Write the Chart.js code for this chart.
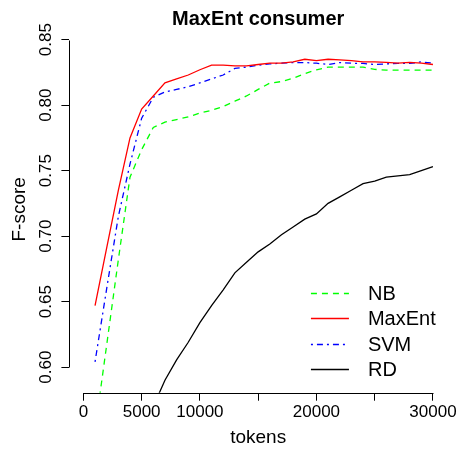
<!DOCTYPE html>
<html>
<head>
<meta charset="utf-8">
<script src="https://cdn.jsdelivr.net/npm/chart.js@4.4.1/dist/chart.umd.min.js"></script>
<style>
  html, body { margin: 0; padding: 0; background: #fff; }
  canvas { display: block; }
</style>
</head>
<body>
<canvas id="chart" width="458" height="453"></canvas>
<script>
// Data (F-score vs. number of training tokens)
const tokens = [1000, 2000, 3000, 4000, 5000, 6000, 7000, 8000, 9000, 10000,
    11000, 12000, 13000, 14000, 15000, 16000, 17000, 18000, 19000, 20000,
    21000, 22000, 23000, 24000, 25000, 26000, 27000, 28000, 29000, 30000];
const nbScores = [0.552, 0.617, 0.682, 0.745, 0.766, 0.783, 0.787, 0.789, 0.791, 0.794,
    0.796, 0.799, 0.803, 0.807, 0.812, 0.8168, 0.818, 0.8205, 0.824, 0.827,
    0.829, 0.829, 0.829, 0.829, 0.8273, 0.8267, 0.8267, 0.8267, 0.8267, 0.8267];
const maxentScores = [0.647, 0.691, 0.735, 0.775, 0.797, 0.807, 0.817, 0.820, 0.823, 0.827,
    0.8305, 0.8305, 0.830, 0.830, 0.831, 0.832, 0.832, 0.833, 0.835, 0.834,
    0.835, 0.8345, 0.834, 0.833, 0.833, 0.8327, 0.832, 0.8327, 0.832, 0.831];
const svmScores = [0.604, 0.660, 0.715, 0.755, 0.790, 0.806, 0.810, 0.812, 0.814, 0.817,
    0.820, 0.823, 0.828, 0.829, 0.8305, 0.8315, 0.832, 0.8325, 0.8325, 0.832,
    0.831, 0.8325, 0.832, 0.8318, 0.831, 0.8315, 0.8318, 0.8318, 0.833, 0.832];
const rdScores = [null, null, null, null, null, 0.570, 0.590, 0.6055, 0.619, 0.634,
    0.647, 0.659, 0.672, 0.680, 0.688, 0.694, 0.701, 0.707, 0.713, 0.717,
    0.725, 0.730, 0.735, 0.740, 0.742, 0.745, 0.746, 0.747, 0.750, 0.753];

const seriesNames = ['NB', 'MaxEnt', 'SVM', 'RD'];
const xTickValues = [0, 5000, 10000, 15000, 20000, 25000, 30000];
const xTickLabels = ['0', '5000', '10000', '', '20000', '', '30000'];
const yTickValues = [0.60, 0.65, 0.70, 0.75, 0.80, 0.85];
const yTickLabels = ['0.60', '0.65', '0.70', '0.75', '0.80', '0.85'];

const FONT = '"Liberation Sans", Arial, Helvetica, sans-serif';

function toPoints(values) {
    return tokens.map((t, i) => ({ x: t, y: values[i] }));
}

// R-style axis lines: only span from first to last tick
const axisLines = {
    id: 'axisLines',
    afterDraw(chart) {
        const { ctx, chartArea, scales } = chart;
        const xs = scales.x, ys = scales.y;
        const yb = Math.round(chartArea.bottom) + 0.5;
        const xl = Math.round(chartArea.left) + 0.5;
        ctx.save();
        ctx.strokeStyle = '#000';
        ctx.lineWidth = 1;
        ctx.beginPath();
        ctx.moveTo(Math.round(xs.getPixelForValue(xTickValues[0])) + 0.5, yb);
        ctx.lineTo(Math.round(xs.getPixelForValue(xTickValues[xTickValues.length - 1])) + 0.5, yb);
        ctx.moveTo(xl, Math.round(ys.getPixelForValue(yTickValues[0])) + 0.5);
        ctx.lineTo(xl, Math.round(ys.getPixelForValue(yTickValues[yTickValues.length - 1])) + 0.5);
        ctx.stroke();
        ctx.restore();
    }
};

// Borderless legend in the lower right of the plot, like R's legend(bty = "n")
const lineLegend = {
    id: 'lineLegend',
    afterDatasetsDraw(chart) {
        const { ctx, chartArea } = chart;
        ctx.save();
        ctx.font = '20px ' + FONT;
        ctx.textBaseline = 'middle';
        ctx.textAlign = 'left';
        chart.data.datasets.forEach((ds, i) => {
            const y = Math.round(chartArea.bottom - 99.5 + i * 25.2) + 0.5;
            ctx.strokeStyle = ds.borderColor;
            ctx.lineWidth = ds.borderWidth;
            ctx.setLineDash(ds.borderDash || []);
            ctx.beginPath();
            ctx.moveTo(chartArea.right - 136, y);
            ctx.lineTo(chartArea.right - 98, y);
            ctx.stroke();
            ctx.setLineDash([]);
            ctx.fillStyle = '#000';
            ctx.fillText(ds.label, chartArea.right - 79, y + 1);
        });
        ctx.restore();
    }
};

Chart.defaults.font.family = FONT;
Chart.defaults.color = '#000';

new Chart(document.getElementById('chart'), {
    type: 'line',
    data: {
        datasets: [
            { label: seriesNames[0], data: toPoints(nbScores), borderColor: '#00ff00', borderDash: [6, 5] },
            { label: seriesNames[1], data: toPoints(maxentScores), borderColor: '#ff0000' },
            { label: seriesNames[2], data: toPoints(svmScores), borderColor: '#0000ff', borderDash: [2, 4, 6, 4] },
            { label: seriesNames[3], data: toPoints(rdScores), borderColor: '#000000' }
        ].map(ds => Object.assign({
            borderWidth: 1.3,
            pointRadius: 0,
            tension: 0,
            fill: false,
            spanGaps: false
        }, ds))
    },
    options: {
        responsive: false,
        animation: false,
        devicePixelRatio: 1,
        layout: { padding: { left: 0, right: 9, top: 0, bottom: 0 } },
        plugins: {
            legend: { display: false },
            tooltip: { enabled: false },
            title: {
                display: true,
                text: 'MaxEnt consumer',
                fullSize: false,
                color: '#000',
                font: { size: 20, weight: 'bold', lineHeight: 1.2 },
                padding: { top: 7, bottom: -5 }
            }
        },
        scales: {
            x: {
                type: 'linear',
                min: -1200,
                max: 31200,
                afterBuildTicks: s => { s.ticks = xTickValues.map(v => ({ value: v })); },
                afterFit: s => { s.height = 60.3; },
                ticks: {
                    autoSkip: false,
                    maxRotation: 0,
                    padding: 1,
                    font: { size: 17 },
                    color: '#000',
                    callback: (v, i) => xTickLabels[i]
                },
                grid: { drawOnChartArea: false, drawTicks: true, tickLength: 8, color: '#000', lineWidth: 1 },
                border: { display: false },
                title: { display: true, text: 'tokens', color: '#000', font: { size: 19 }, padding: { top: 0, bottom: 3.6 } }
            },
            y: {
                type: 'linear',
                min: 0.5805,
                max: 0.8604,
                afterBuildTicks: s => { s.ticks = yTickValues.map(v => ({ value: v })); },
                afterFit: s => { s.width = 69.4; },
                ticks: {
                    autoSkip: false,
                    minRotation: 90,
                    maxRotation: 90,
                    crossAlign: 'center',
                    padding: -1,
                    font: { size: 17 },
                    color: '#000',
                    callback: (v, i) => yTickLabels[i]
                },
                grid: { drawOnChartArea: false, drawTicks: true, tickLength: 8, color: '#000', lineWidth: 1 },
                border: { display: false },
                title: { display: true, text: 'F-score', color: '#000', font: { size: 19 }, padding: { top: 8.5, bottom: 0 } }
            }
        }
    },
    plugins: [axisLines, lineLegend]
});
</script>
</body>
</html>
